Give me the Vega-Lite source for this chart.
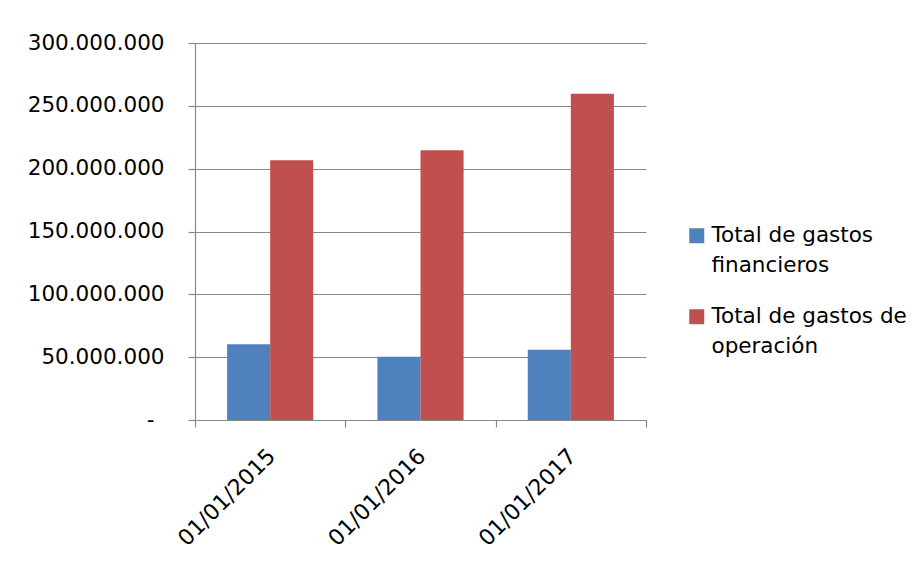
{
  "$schema": "https://vega.github.io/schema/vega-lite/v6.json",
  "width": 451,
  "height": 377,
  "autosize": "none",
  "padding": {"left": 195, "top": 43, "right": 275, "bottom": 143},
  "background": "white",
  "config": {
    "locale": {"number": {"decimal": ",", "thousands": ".", "grouping": [3], "currency": ["", ""]}},
    "view": {"stroke": null},
    "font": "DejaVu Sans",
    "style": {"guide-label": {"lineHeight": 30}}
  },
  "data": {
    "values": [
      {"fecha": "01/01/2015", "serie": "Total de gastos financieros", "valor": 60200000},
      {"fecha": "01/01/2015", "serie": "Total de gastos de operación", "valor": 206700000},
      {"fecha": "01/01/2016", "serie": "Total de gastos financieros", "valor": 50400000},
      {"fecha": "01/01/2016", "serie": "Total de gastos de operación", "valor": 214600000},
      {"fecha": "01/01/2017", "serie": "Total de gastos financieros", "valor": 56000000},
      {"fecha": "01/01/2017", "serie": "Total de gastos de operación", "valor": 259700000}
    ]
  },
  "mark": {"type": "bar"},
  "encoding": {
    "x": {
      "field": "fecha",
      "type": "nominal",
      "scale": {"paddingInner": 0, "paddingOuter": 0},
      "axis": {
        "title": null,
        "tickBand": "extent",
        "domainColor": "#898989",
        "domainWidth": 1.2,
        "tickColor": "#898989",
        "tickWidth": 1.2,
        "tickSize": 7,
        "labelAngle": -45,
        "labelFontSize": 22,
        "labelColor": "#000000",
        "labelPadding": 18,
        "labelOffset": -6,
        "labelLimit": 300
      }
    },
    "xOffset": {
      "field": "serie",
      "type": "nominal",
      "sort": ["Total de gastos financieros", "Total de gastos de operación"],
      "scale": {"paddingInner": 0, "paddingOuter": 0.745}
    },
    "y": {
      "field": "valor",
      "type": "quantitative",
      "scale": {"domain": [0, 300000000], "nice": false},
      "axis": {
        "title": null,
        "values": [0, 50000000, 100000000, 150000000, 200000000, 250000000, 300000000],
        "format": ",d",
        "labelExpr": "datum.value === 0 ? '-' : datum.label",
        "grid": true,
        "gridColor": "#898989",
        "gridWidth": 1.2,
        "domainColor": "#898989",
        "domainWidth": 1.2,
        "tickColor": "#898989",
        "tickWidth": 1.2,
        "tickSize": 7,
        "labelFontSize": 21.5,
        "labelColor": "#000000",
        "labelPadding": {"condition": {"test": "datum.value === 0", "value": 34}, "value": 24}
      }
    },
    "color": {
      "field": "serie",
      "type": "nominal",
      "scale": {
        "domain": ["Total de gastos financieros", "Total de gastos de operación"],
        "range": ["#4F81BD", "#C0504D"]
      },
      "legend": {
        "title": null,
        "orient": "none",
        "legendX": 491,
        "legendY": 182,
        "symbolType": "square",
        "symbolSize": 225,
        "symbolStrokeWidth": 0,
        "labelFontSize": 21.5,
        "labelColor": "#000000",
        "labelOffset": 4,
        "labelLimit": 300,
        "rowPadding": 28,
        "labelExpr": "datum.label == 'Total de gastos financieros' ? ['Total de gastos', 'financieros'] : ['Total de gastos de', 'operación']"
      }
    }
  }
}
